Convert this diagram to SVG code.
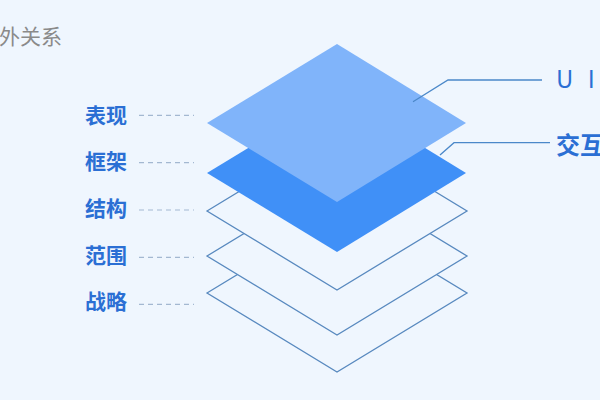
<svg xmlns="http://www.w3.org/2000/svg" width="600" height="400" viewBox="0 0 600 400">
<style>
.bg{fill:#eff6fe}
.outline{fill:#eff6fe;stroke:#5889bf;stroke-width:1.3;stroke-linejoin:miter}
.lbl{font-family:"Noto Sans CJK SC","Noto Sans",sans-serif;font-size:21px;font-weight:bold;fill:#2b6fd4}
.rlbl{font-family:"Noto Sans CJK SC","Noto Sans",sans-serif;font-size:24px;fill:#2b6fd4}
.dash{stroke:#a3b8d1;stroke-width:1.2;stroke-dasharray:5 4;fill:none}
.conn{stroke:#4b88c9;stroke-width:1.3;fill:none}
</style>
<rect class="bg" x="0" y="0" width="600" height="400"/>
<text x="-1" y="44" font-family="'Noto Sans CJK SC','Noto Sans',sans-serif" font-size="21" fill="#8a8a8a">外关系</text>
<g id="layer-strategy"><polygon class="outline" points="207,293 337,214 467,293 337,372"/></g>
<g id="layer-scope"><polygon class="outline" points="207,256 337,177 467,256 337,335"/></g>
<g id="layer-structure"><polygon class="outline" points="207,211 337,132 467,211 337,290"/></g>
<g id="layer-skeleton"><polygon fill="#4090f7" points="207,173 337,94 466,173 337,252"/></g>
<g id="layer-surface"><polygon fill="#80b4fa" points="207,123 337,44 466,123 337,202"/></g>
<g id="labels-left">
<text class="lbl" x="85" y="123">表现</text>
<text class="lbl" x="85" y="169">框架</text>
<text class="lbl" x="85" y="215.5">结构</text>
<text class="lbl" x="85" y="263">范围</text>
<text class="lbl" x="85" y="309">战略</text>
</g>
<g id="connectors">
<line class="dash" x1="139" y1="115.3" x2="194" y2="115.3"/>
<line class="dash" x1="139" y1="162.7" x2="194" y2="162.7"/>
<line class="dash" x1="139" y1="210" x2="194" y2="210"/>
<line class="dash" x1="139" y1="257.3" x2="194" y2="257.3"/>
<line class="dash" x1="139" y1="304.3" x2="194" y2="304.3"/>
<polyline class="conn" points="413,101.7 448,80 542,80"/>
<polyline class="conn" points="440,155 454,142.7 550,142.7"/>
</g>
<g id="labels-right">
<text class="rlbl" x="556" y="88" letter-spacing="4.5">U I</text>
<text class="rlbl" x="556" y="154" font-weight="bold">交互</text>
</g>
</svg>
